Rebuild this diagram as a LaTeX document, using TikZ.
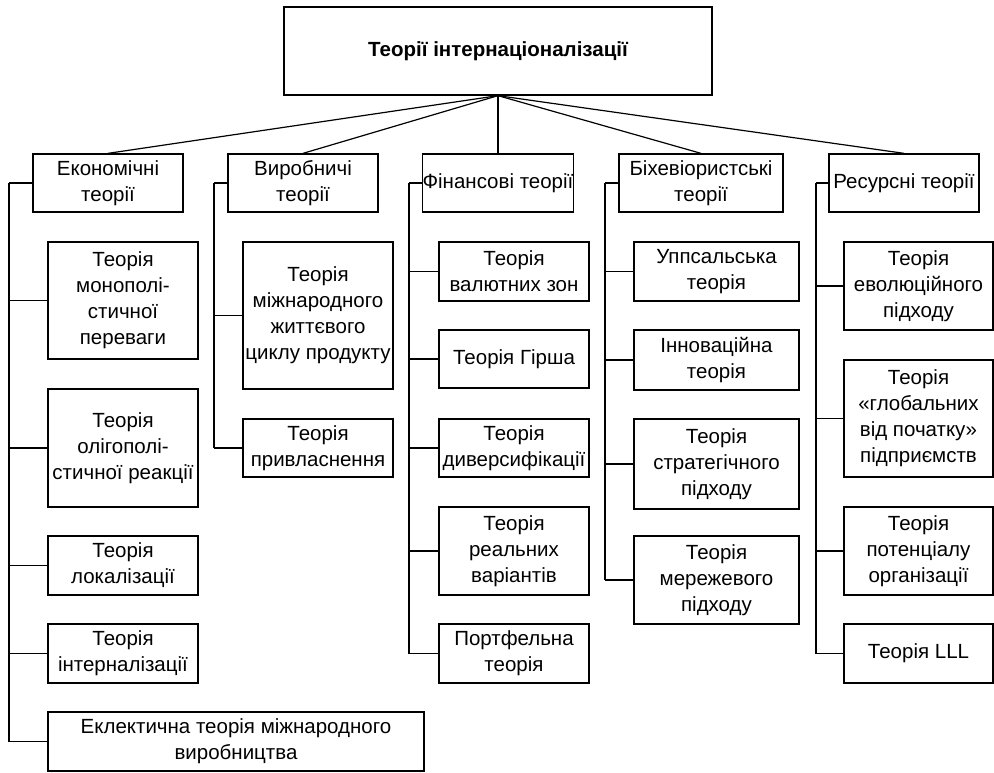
\documentclass[tikz,border=0pt]{standalone}
\usepackage{fontspec}
\setmainfont{Liberation Sans}
\begin{document}
\begin{tikzpicture}[x=1pt,y=-1pt,
  box/.style={draw, line width=1.3pt, inner sep=0pt, align=center,
    font=\fontsize{20.5}{26}\selectfont},
  conn/.style={line width=1.2pt},
  bus/.style={line width=2pt, line cap=rect, shorten <=1pt, shorten >=1pt}]
\useasboundingbox (0,0) rectangle (994,773);
% top
\node[box, minimum width=428pt, minimum height=88pt, font=\fontsize{20.5}{26}\selectfont\bfseries] (top) at (498,51) {Теорії інтернаціоналізації};
% categories
\node[box, minimum width=150pt, minimum height=58pt] (ec) at (108,183) {Економічні\\теорії};
\node[box, minimum width=150pt, minimum height=58pt] (vy) at (303,183) {Виробничі\\теорії};
\node[box, minimum width=150pt, minimum height=58pt] (fi) at (498,183) {Фінансові теорії};
\node[box, minimum width=164pt, minimum height=58pt] (bi) at (701,183) {Біхевіористські\\теорії};
\node[box, minimum width=150pt, minimum height=58pt] (re) at (904,183) {Ресурсні теорії};
% economic
\node[box, minimum width=150pt, minimum height=117pt] (ec1) at (123,300.5) {Теорія\\монополі-\\стичної\\переваги};
\node[box, minimum width=150pt, minimum height=118pt] (ec2) at (123,448) {Теорія\\олігополі-\\стичної реакції};
\node[box, minimum width=150pt, minimum height=59pt] (ec3) at (123,565.5) {Теорія\\локалізації};
\node[box, minimum width=150pt, minimum height=59pt] (ec4) at (123,653.5) {Теорія\\інтерналізації};
\node[box, minimum width=376pt, minimum height=59pt] (ec5) at (236,741.5) {Еклектична теорія міжнародного\\виробництва};
% production
\node[box, minimum width=150pt, minimum height=147pt] (vy1) at (318,315.5) {Теорія\\міжнародного\\життєвого\\циклу продукту};
\node[box, minimum width=150pt, minimum height=58pt] (vy2) at (318,448) {Теорія\\привласнення};
% financial
\node[box, minimum width=150pt, minimum height=59pt] (fi1) at (514,271.5) {Теорія\\валютних зон};
\node[box, minimum width=150pt, minimum height=58pt] (fi2) at (514,359) {Теорія Гірша};
\node[box, minimum width=150pt, minimum height=58pt] (fi3) at (514,448) {Теорія\\диверсифікації};
\node[box, minimum width=150pt, minimum height=88pt] (fi4) at (514,551) {Теорія\\реальних\\варіантів};
\node[box, minimum width=150pt, minimum height=59pt] (fi5) at (514,653.5) {Портфельна\\теорія};
% behavioural
\node[box, minimum width=165pt, minimum height=59pt] (bi1) at (716.5,271.5) {Уппсальська\\теорія};
\node[box, minimum width=165pt, minimum height=60pt] (bi2) at (716.5,360) {Інноваційна\\теорія};
\node[box, minimum width=165pt, minimum height=90pt] (bi3) at (716.5,464) {Теорія\\стратегічного\\підходу};
\node[box, minimum width=165pt, minimum height=88pt] (bi4) at (716.5,580) {Теорія\\мережевого\\підходу};
% resource
\node[box, minimum width=149pt, minimum height=88pt] (re1) at (918.5,286) {Теорія\\еволюційного\\підходу};
\node[box, minimum width=149pt, minimum height=117pt] (re2) at (918.5,418.5) {Теорія\\«глобальних\\від початку»\\підприємств};
\node[box, minimum width=149pt, minimum height=88pt] (re3) at (918.5,551) {Теорія\\потенціалу\\організації};
\node[box, minimum width=149pt, minimum height=59pt] (re4) at (918.5,653.5) {Теорія LLL};
% top connectors
\foreach \c in {ec,vy,fi,bi,re} \draw[conn] (top.south) -- (\c.north);
% bus coordinates
\coordinate (ecb) at (9,0);
\coordinate (vyb) at (214,0);
\coordinate (fib) at (409,0);
\coordinate (bib) at (605,0);
\coordinate (reb) at (816,0);
% economic
\draw[bus] (ec.west -| ecb) -- (ecb |- ec5.west);
\foreach \n in {ec,ec1,ec2,ec3,ec4,ec5} \draw[conn] (\n.west) -- (\n.west -| ecb);
% production
\draw[bus] (vy.west -| vyb) -- (vyb |- vy2.west);
\foreach \n in {vy,vy1,vy2} \draw[conn] (\n.west) -- (\n.west -| vyb);
% financial
\draw[bus] (fi.west -| fib) -- (fib |- fi5.west);
\foreach \n in {fi,fi1,fi2,fi3,fi4,fi5} \draw[conn] (\n.west) -- (\n.west -| fib);
% behavioural
\draw[bus] (bi.west -| bib) -- (bib |- bi4.west);
\foreach \n in {bi,bi1,bi2,bi3,bi4} \draw[conn] (\n.west) -- (\n.west -| bib);
% resource
\draw[bus] (re.west -| reb) -- (reb |- re4.west);
\foreach \n in {re,re1,re2,re3,re4} \draw[conn] (\n.west) -- (\n.west -| reb);
\end{tikzpicture}
\end{document}
